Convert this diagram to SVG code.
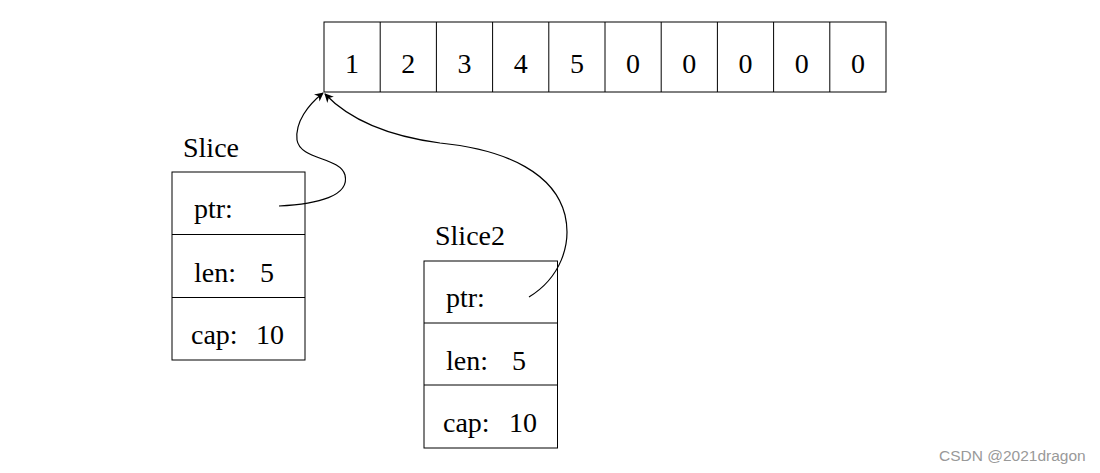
<svg xmlns="http://www.w3.org/2000/svg" width="1100" height="473" viewBox="0 0 1100 473">
<style>
.box{fill:#fff;stroke:#000;stroke-width:1}
.t{font-family:"Liberation Serif","Times New Roman",serif;font-size:28px;fill:#000}
.c{text-anchor:middle}
.wm{font-family:"Liberation Sans",Arial,sans-serif;font-size:15.5px;fill:#999}
.conn{fill:none;stroke:#000;stroke-width:1.2}
</style>
<defs>
<marker id="arr" viewBox="0 0 10 10" refX="9" refY="5" markerWidth="9" markerHeight="9" markerUnits="userSpaceOnUse" orient="auto">
<path d="M0,0 L10,5 L0,10 L3,5 z" fill="#000"/>
</marker>
</defs>
<rect width="1100" height="473" fill="#fff"/>
<g id="array">
<rect class="box" x="324" y="22" width="562" height="70"/>
<g stroke="#000" stroke-width="1">
<line x1="380.2" y1="22" x2="380.2" y2="92"/>
<line x1="436.4" y1="22" x2="436.4" y2="92"/>
<line x1="492.6" y1="22" x2="492.6" y2="92"/>
<line x1="548.8" y1="22" x2="548.8" y2="92"/>
<line x1="605" y1="22" x2="605" y2="92"/>
<line x1="661.2" y1="22" x2="661.2" y2="92"/>
<line x1="717.4" y1="22" x2="717.4" y2="92"/>
<line x1="773.6" y1="22" x2="773.6" y2="92"/>
<line x1="829.8" y1="22" x2="829.8" y2="92"/>
</g>
<text class="t c" x="352" y="73">1</text>
<text class="t c" x="408.3" y="73">2</text>
<text class="t c" x="464.5" y="73">3</text>
<text class="t c" x="520.7" y="73">4</text>
<text class="t c" x="576.9" y="73">5</text>
<text class="t c" x="633.1" y="73">0</text>
<text class="t c" x="689.3" y="73">0</text>
<text class="t c" x="745.5" y="73">0</text>
<text class="t c" x="801.7" y="73">0</text>
<text class="t c" x="857.9" y="73">0</text>
</g>
<g id="slice">
<text class="t" x="183" y="157">Slice</text>
<rect class="box" x="172" y="172" width="133" height="188"/>
<line x1="172" y1="234.5" x2="305" y2="234.5" stroke="#000"/>
<line x1="172" y1="297.5" x2="305" y2="297.5" stroke="#000"/>
<text class="t" x="194" y="218">ptr:</text>
<text class="t" x="194" y="282">len:</text>
<text class="t" x="260" y="282">5</text>
<text class="t" x="191" y="344">cap:</text>
<text class="t" x="256" y="344">10</text>
</g>
<g id="slice2">
<text class="t" x="435" y="245">Slice2</text>
<rect class="box" x="424" y="261" width="133.5" height="187"/>
<line x1="424" y1="323" x2="557.5" y2="323" stroke="#000"/>
<line x1="424" y1="385" x2="557.5" y2="385" stroke="#000"/>
<text class="t" x="446" y="307">ptr:</text>
<text class="t" x="446" y="370">len:</text>
<text class="t" x="512" y="370">5</text>
<text class="t" x="443" y="432">cap:</text>
<text class="t" x="509" y="432">10</text>
</g>
<g id="connectors">
<path class="conn" d="M279,206 C318,204 350,196 345,175 C340,157 300,160 297,140 C295,122 308,105 323,93" marker-end="url(#arr)"/>
<path class="conn" d="M529,297 C560,278 572,245 565,215 C555,175 510,150 440,143 C380,135 345,115 325,94" marker-end="url(#arr)"/>
</g>
<text class="wm" x="939" y="461">CSDN @2021dragon</text>
</svg>
